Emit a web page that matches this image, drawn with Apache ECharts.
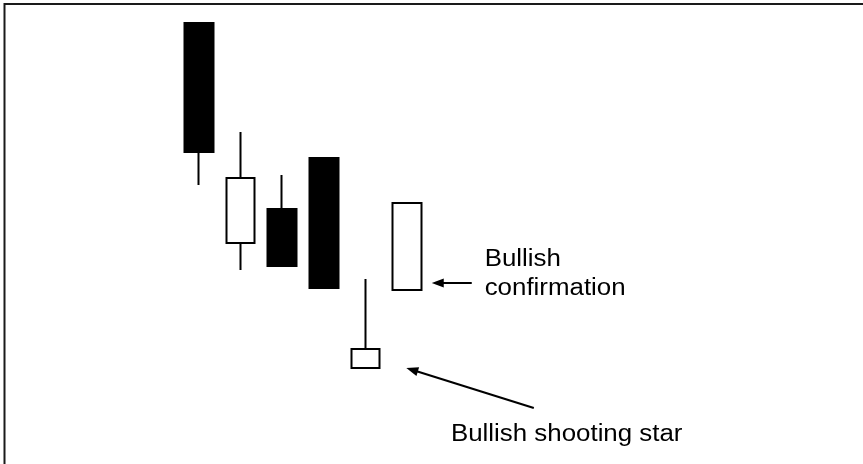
<!DOCTYPE html>
<html>
<head>
<meta charset="utf-8">
<script src="https://cdn.jsdelivr.net/npm/echarts@6/dist/echarts.min.js"></script>
<style>
html,body{margin:0;padding:0;background:#fff;}
#c{width:863px;height:464px;}
</style>
</head>
<body>
<div id="c"></div>
<script>
// ---- data ----
const categories = ['1', '2', '3', '4', '5', '6'];
const opens  = [357, 137, 171, 222, 12, 90];
const closes = [228, 202, 114, 92, 31, 177];
const lows   = [195, 110, 114, 92, 12, 90];
const highs  = [357, 248, 205, 222, 101, 177];
const labelTexts = ['Bullish\nconfirmation', 'Bullish shooting star'];
// annotation anchors in data space: [category position, price]
const labelAnchors = [[6.86, 77], [6.05, -69]];
const arrowFrom = [[6.55, 97], [8.04, -28]];
const arrowTo   = [[5.59, 97], [4.98, 12]];

const chart = echarts.init(document.getElementById('c'), null, {renderer: 'canvas'});
const candleData = categories.map((c, i) => [opens[i], closes[i], lows[i], highs[i]]);

chart.setOption({
  animation: false,
  backgroundColor: '#fff',
  grid: {left: 178, width: 250, top: 20, height: 360},
  xAxis: {type: 'category', data: categories, show: false, boundaryGap: true},
  yAxis: {type: 'value', min: 0, max: 360, show: false},
  series: [{
    type: 'candlestick',
    data: candleData,
    barWidth: 29,
    itemStyle: {
      color: '#ffffff', color0: '#000000',
      borderColor: '#000000', borderColor0: '#000000',
      borderWidth: 2
    }
  }]
});

function toPx(pt) {
  const a = chart.convertToPixel({gridIndex: 0}, [0, pt[1]]);
  const b = chart.convertToPixel({gridIndex: 0}, [1, pt[1]]);
  return [a[0] + pt[0] * (b[0] - a[0]), a[1]];
}

const graphics = [{
  type: 'polyline',
  shape: {points: [[4.5, 464], [4.5, 4], [863, 4]]},
  style: {stroke: '#1a1a1a', lineWidth: 2, fill: null}
}];

for (let k = 0; k < arrowFrom.length; k++) {
  const p1 = toPx(arrowFrom[k]);
  const p2 = toPx(arrowTo[k]);
  const dx = p2[0] - p1[0], dy = p2[1] - p1[1];
  const len = Math.sqrt(dx * dx + dy * dy);
  const ux = dx / len, uy = dy / len;
  const hl = 12, hw = 4.5;
  const bx = p2[0] - ux * hl, by = p2[1] - uy * hl;
  graphics.push({
    type: 'line',
    shape: {x1: p1[0], y1: p1[1], x2: bx + ux * 2, y2: by + uy * 2},
    style: {stroke: '#000', lineWidth: 2}
  });
  graphics.push({
    type: 'polygon',
    shape: {points: [p2, [bx - uy * hw, by + ux * hw], [bx + uy * hw, by - ux * hw]]},
    style: {fill: '#000'}
  });
}

for (let k = 0; k < labelTexts.length; k++) {
  const p = toPx(labelAnchors[k]);
  graphics.push({
    type: 'text',
    x: p[0], y: p[1],
    scaleX: 1.125,
    style: {
      text: labelTexts[k],
      font: '23px "Liberation Sans", Arial, sans-serif',
      fill: '#000',
      textAlign: 'left',
      textVerticalAlign: 'bottom',
      lineHeight: 29
    }
  });
}

chart.setOption({graphic: graphics});
</script>
</body>
</html>
